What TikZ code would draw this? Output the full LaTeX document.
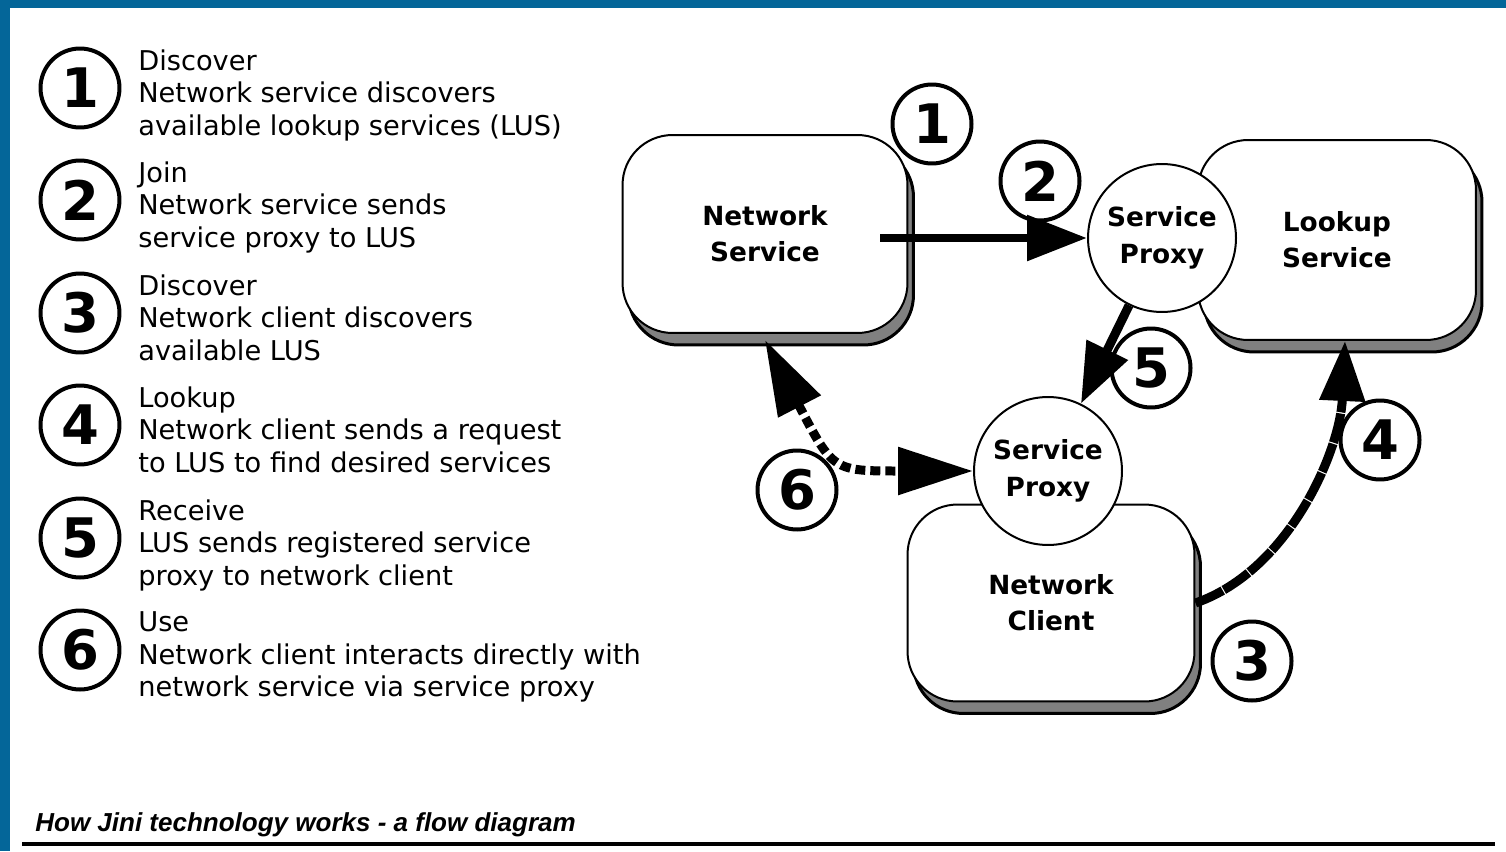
\documentclass[tikz,border=0pt]{standalone}
\usepackage{fontspec}
\setmainfont{DejaVu Sans}
\newfontfamily\capfont{Liberation Sans}
\usetikzlibrary{arrows.meta,shadows}
\definecolor{jiniblue}{RGB}{4,102,153}

\begin{document}
\begin{tikzpicture}[
  x=0.02cm, y=-0.02cm,
  num/.style={draw,circle,line width=0.08cm,minimum size=1.58cm,inner sep=0pt,
   font=\fontsize{31}{31}\selectfont\bfseries},
  legend/.style={anchor=north west,align=left,inner sep=0pt,
   font=\fontsize{15.5}{18.7}\selectfont},
  box/.style={draw,fill=white,line width=0.04cm,rounded corners=1cm,
   align=center,font=\fontsize{15}{20.4}\selectfont\bfseries,
   general shadow={fill=gray,draw=black,line width=0.06cm,
    shadow xshift=0.12cm,shadow yshift=-0.24cm}},
  proxy/.style={draw,circle,fill=white,line width=0.04cm,minimum size=2.96cm,
   inner sep=0pt,align=center,font=\fontsize{15}{21}\selectfont\bfseries},
  flow/.style={line width=0.18cm,-{Triangle[length=1.2cm,width=0.88cm]}},
  lookupflow/.style={flow,dash pattern=on 0.6cm off 0.025cm},
  useflow/.style={line width=0.18cm,dash pattern=on 0.2cm off 0.1cm,
   {Triangle[length=1.5cm,width=0.92cm]}-{Triangle[length=1.5cm,width=0.92cm]}}
  ]
  \fill[white,use as bounding box] (0,0) rectangle (1506,851);
  \fill[jiniblue] (0,0) rectangle (1506,8);
  \fill[jiniblue] (0,0) rectangle (10,851);

  \node[num] (L1) at (80,88) {1};
  \node[legend] (L1text) at (138,49) {Discover\\Network service discovers\\available lookup services (LUS)};
  \node[num] (L2) at (80,200) {2};
  \node[legend] (L2text) at (138,161) {Join\\Network service sends\\service proxy to LUS};
  \node[num] (L3) at (80,313) {3};
  \node[legend] (L3text) at (138,274) {Discover\\Network client discovers\\available LUS};
  \node[num] (L4) at (80,425) {4};
  \node[legend] (L4text) at (138,386) {Lookup\\Network client sends a request\\to LUS to find desired services};
  \node[num] (L5) at (80,538) {5};
  \node[legend] (L5text) at (138,499) {Receive\\LUS sends registered service\\proxy to network client};
  \node[num] (L6) at (80,650) {6};
  \node[legend] (L6text) at (138,611) {Use\\Network client interacts directly with\\network service via service proxy};

  \node[box,minimum width=5.7cm,minimum height=3.96cm] (NS) at (765,234) {Network\\Service};
  \node[box,minimum width=5.56cm,minimum height=4cm] (LS) at (1337,240) {Lookup\\Service};
  \node[box,minimum width=5.74cm,minimum height=3.94cm] (NC) at (1051,603) {Network\\Client};
  \node[proxy] (SP1) at (1162,238) {Service\\Proxy};
  \node[proxy] (SP2) at (1048,471) {Service\\Proxy};

  \node[num] (R1) at (932,124) {1};
  \node[num] (R2) at (1040,181) {2};
  \node[num] (R3) at (1252,661) {3};
  \node[num] (R4) at (1380,440) {4};
  \node[num] (R5) at (1151,368) {5};
  \node[num] (R6) at (797,490) {6};

  \coordinate (NSout) at (880,238);
  \draw[flow] (NSout) -- (SP1);
  \draw[flow] (SP1) -- (SP2);
  \draw[lookupflow] (NC.east) .. controls (1290,570) and (1340,450) .. ([xshift=0.16cm]LS.south);
  \draw[useflow] ([yshift=-0.12cm]NS.south) .. controls (833,471) .. (SP2.west);

  \node[anchor=base west,inner sep=0pt,font=\capfont\fontsize{14.8}{16}\selectfont\bfseries\itshape]
   (caption) at (35,831) {How Jini technology works - a flow diagram};
  \draw[line width=0.08cm] (22,844) -- (1495,844);
\end{tikzpicture}
\end{document}
